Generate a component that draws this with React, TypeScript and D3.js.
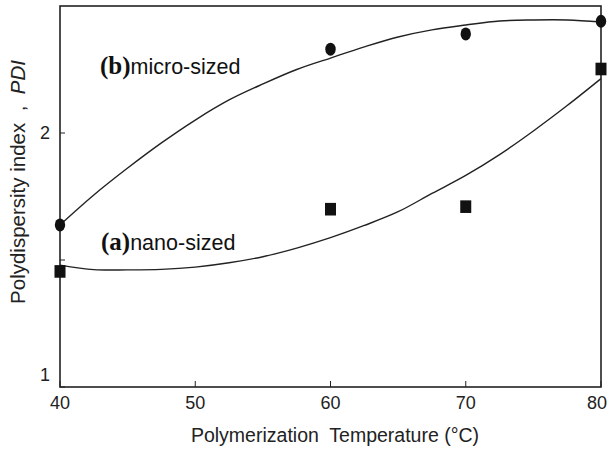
import React from "react";
import * as d3 from "d3";

// Measured points
const temps = [40, 60, 70, 80];
const microPDI = [1.638, 2.33, 2.39, 2.44];
const nanoPDI = [1.455, 1.70, 1.71, 2.252];

// Fitted curves
const curveX = [40, 42.5, 45, 47.5, 50, 52.5, 55, 57.5, 60, 62.5, 65, 67.5, 70, 72.5, 75, 77.5, 80];
const microCurve = [1.638, 1.756, 1.862, 1.961, 2.051, 2.13, 2.193, 2.25, 2.295, 2.339, 2.378, 2.406, 2.425, 2.441, 2.445, 2.445, 2.437];
const nanoCurve = [1.48, 1.462, 1.461, 1.463, 1.472, 1.489, 1.513, 1.547, 1.588, 1.636, 1.69, 1.762, 1.833, 1.915, 2.008, 2.108, 2.214];

const xTicks = [40, 50, 60, 70, 80];
const yTicks = [1, 1.5, 2];
const yTickLabels = ["1", "", "2"];

const W = 608;
const H = 449;
const M = { left: 60, right: 601, top: 6, bottom: 387 };

export default function App() {
  const x = d3.scaleLinear().domain([40, 80]).range([M.left, M.right]);
  const y = d3.scaleLinear().domain([1, 2.5]).range([M.bottom, M.top]);
  const line = d3
    .line<number>()
    .x((_, i) => x(curveX[i]))
    .y((d) => y(d))
    .curve(d3.curveCatmullRom);
  const sans = "'Liberation Sans', Arial, sans-serif";
  const serif = "'Liberation Serif', 'Times New Roman', serif";
  const stroke = "#222";
  return (
    <svg
      width={W}
      height={H}
      style={{ position: "fixed", left: 0, top: 0, background: "#fff" }}
      fontFamily={sans}
    >
      <rect x={0} y={0} width={W} height={H} fill="#fff" />
      {/* frame */}
      <rect
        x={M.left}
        y={M.top}
        width={M.right - M.left}
        height={M.bottom - M.top}
        fill="none"
        stroke={stroke}
        strokeWidth={1.6}
      />
      {/* x ticks */}
      {xTicks.map((t, i) => (
        <g key={"xt" + t}>
          <line x1={x(t)} x2={x(t)} y1={M.bottom} y2={M.bottom - 6} stroke={stroke} strokeWidth={1} />
          <text
            x={i === xTicks.length - 1 ? W - 1 : x(t)}
            y={409}
            fontSize={18}
            textAnchor={i === xTicks.length - 1 ? "end" : "middle"}
            fill="#222"
          >
            {t}
          </text>
        </g>
      ))}
      {/* y ticks */}
      {yTicks.map((t, i) => (
        <g key={"yt" + t}>
          <line x1={M.left} x2={M.left + 5} y1={y(t)} y2={y(t)} stroke={stroke} strokeWidth={1} />
          <text
            x={M.left - 10}
            y={(t === 1 ? y(t) - 12 : y(t)) + 6}
            fontSize={18}
            textAnchor="end"
            fill="#222"
          >
            {yTickLabels[i]}
          </text>
        </g>
      ))}
      {/* axis titles */}
      <text x={335} y={442} fontSize={19.5} textAnchor="middle" fill="#222" xmlSpace="preserve">
        {"Polymerization  Temperature (°C)"}
      </text>
      <text
        transform="translate(25,182) rotate(-90)"
        fontSize={20.5}
        textAnchor="middle"
        fill="#222"
        xmlSpace="preserve"
      >
        {"Polydispersity index  ,  "}
        <tspan fontStyle="italic">PDI</tspan>
      </text>
      {/* curves */}
      <path d={line(microCurve) || ""} fill="none" stroke={stroke} strokeWidth={1.4} />
      <path d={line(nanoCurve) || ""} fill="none" stroke={stroke} strokeWidth={1.4} />
      {/* markers */}
      {temps.map((t, i) => (
        <ellipse key={"c" + t} cx={x(t)} cy={y(microPDI[i])} rx={5.2} ry={6.5} fill="#111" />
      ))}
      {temps.map((t, i) => (
        <rect key={"s" + t} x={x(t) - 5.5} y={y(nanoPDI[i]) - 6.3} width={11} height={12.6} fill="#111" />
      ))}
      {/* annotations */}
      <text x={100} y={74} fill="#111">
        <tspan fontFamily={serif} fontWeight="bold" fontSize={25}>(b)</tspan>
        <tspan fontSize={21.5}>micro-sized</tspan>
      </text>
      <text x={101} y={250} fill="#111">
        <tspan fontFamily={serif} fontWeight="bold" fontSize={25}>(a)</tspan>
        <tspan fontSize={21.5}>nano-sized</tspan>
      </text>
    </svg>
  );
}
